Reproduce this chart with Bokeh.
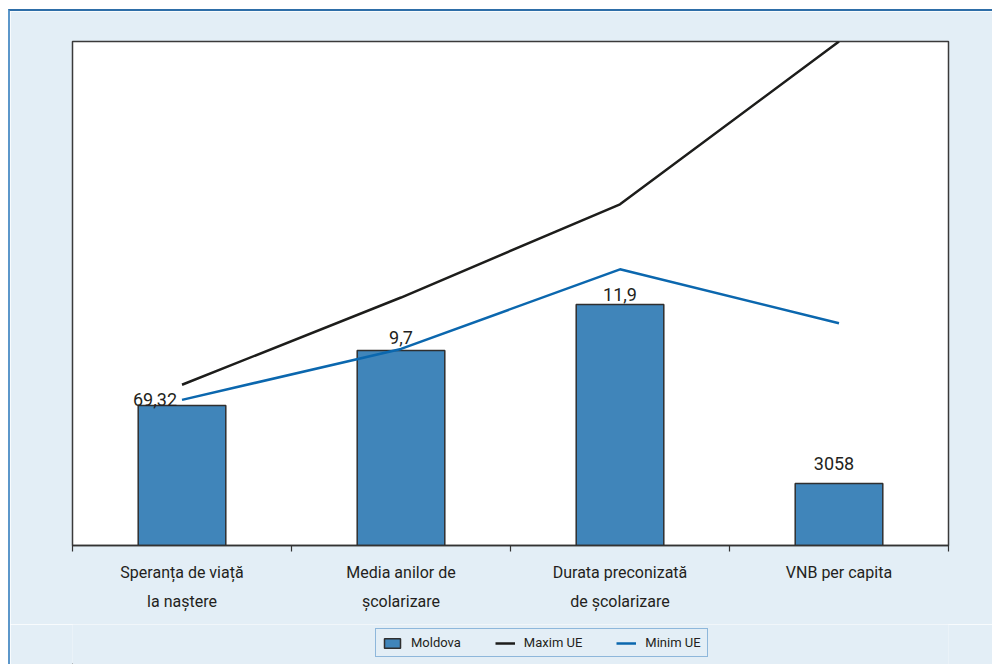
from bokeh.plotting import figure
from bokeh.layouts import column
from bokeh.models import ColumnDataSource, Range1d, FixedTicker, Legend, LegendItem, LinearAxis
from bokeh.core.properties import value
from bokeh.embed import file_html
from bokeh.resources import INLINE

# ---- data ----
categories = ["Speranța de viață\nla naștere", "Media anilor de\nșcolarizare",
              "Durata preconizată\nde școlarizare", "VNB per capita"]
# bar heights and line levels on the chart's own (unlabelled) relative scale, 0..100
moldova = [27.8, 38.7, 47.8, 12.3]
maxim_ue = [31.9, 49.2, 67.7, 100.0]
minim_ue = [28.9, 39.0, 54.8, 44.1]
value_labels = ["69,32", "9,7", "11,9", "3058"]

# ---- styling helpers ----
label_dx = [-27, 0, 0, -5]
label_dy = [-6, -13, -10, -20]
BG = "#e3eef6"
BAR_FILL = "#4085ba"
MAX_COL = "#1d1d1b"
MIN_COL = "#0b67ae"

xc = [i + 0.5 for i in range(len(categories))]
line1 = {x: c.split("\n")[0] for x, c in zip(xc, categories)}
line2 = {x: c.split("\n")[1] for x, c in zip(xc, categories) if "\n" in c}

p = figure(width=984, height=615, output_backend="svg", toolbar_location=None,
           x_range=Range1d(0, 4), y_range=Range1d(0, 100))
p.margin = (9, 0, 0, 8)
p.styles = {"border-top": "2px solid #2e6ea8", "border-left": "2px solid #5c97ca"}
p.min_border_left = 62
p.min_border_right = 46
p.min_border_top = 30
p.min_border_bottom = 81
p.background_fill_color = "white"
p.border_fill_color = BG
p.outline_line_color = "#3a3a3a"
p.outline_line_width = 1.5
p.xgrid.visible = False
p.ygrid.visible = False
p.yaxis.visible = False

ax = p.xaxis[0]
ax.ticker = FixedTicker(ticks=xc, minor_ticks=[0, 1, 2, 3, 4])
ax.major_label_overrides = line1
ax.major_tick_line_color = None
ax.major_tick_in = 0
ax.major_tick_out = 6
ax.minor_tick_in = 0
ax.minor_tick_out = 6
ax.minor_tick_line_color = "#333333"
ax.minor_tick_line_width = 1.2
ax.axis_line_color = "#333333"
ax.axis_line_width = 1.5
ax.major_label_text_font = "Roboto"
ax.major_label_text_font_size = "16px"
ax.major_label_text_color = "#231f20"
ax.major_label_standoff = 11

ax2 = LinearAxis(ticker=FixedTicker(ticks=list(line2.keys())),
                 major_label_overrides=line2)
ax2.axis_line_color = None
ax2.major_tick_line_color = None
ax2.minor_tick_line_color = None
ax2.major_tick_in = 0
ax2.major_tick_out = 0
ax2.major_label_text_font = "Roboto"
ax2.major_label_text_font_size = "16px"
ax2.major_label_text_color = "#231f20"
ax2.major_label_standoff = 7
p.add_layout(ax2, "below")

src = ColumnDataSource(dict(x=xc, m=moldova, mx=maxim_ue, mn=minim_ue,
                            lab=value_labels, dx=label_dx, dy=label_dy))

p.vbar(x="x", top="m", bottom=0, width=0.4, source=src,
       fill_color=BAR_FILL, line_color="#2f2f2f", line_width=1.5)
p.line(x="x", y="mx", source=src, line_color=MAX_COL, line_width=2.5)
p.line(x="x", y="mn", source=src, line_color=MIN_COL, line_width=2.5)

p.text(x="x", y="m", text="lab", source=src, x_offset="dx", y_offset="dy",
       text_align="center", text_baseline="alphabetic",
       text_font=value("Roboto"), text_font_size="18px", text_color="#231f20")

# ---- legend strip below the chart (its own small figure, data kept out of view) ----
lf = figure(width=984, height=40, output_backend="svg", toolbar_location=None,
            x_range=Range1d(100, 101), y_range=Range1d(100, 101),
            x_axis_location=None, y_axis_location=None)
lf.margin = (0, 0, 0, 8)
lf.styles = {"border-left": "2px solid #5c97ca"}
lf.min_border_left = 0
lf.min_border_right = 0
lf.min_border_top = 0
lf.min_border_bottom = 0
lf.background_fill_color = BG
lf.border_fill_color = BG
lf.outline_line_color = None
lf.xgrid.visible = False
lf.ygrid.visible = False

lbars = lf.vbar(x="x", top="m", bottom=0, width=0.4, source=src,
                fill_color=BAR_FILL, line_color="#2f2f2f", line_width=1.5)
lmax = lf.line(x="x", y="mx", source=src, line_color=MAX_COL, line_width=2.5)
lmin = lf.line(x="x", y="mn", source=src, line_color=MIN_COL, line_width=2.5)

legend = Legend(items=[LegendItem(label="Moldova", renderers=[lbars]),
                       LegendItem(label="Maxim UE", renderers=[lmax]),
                       LegendItem(label="Minim UE", renderers=[lmin])],
                orientation="horizontal", location=(303, 7))
legend.label_text_font = "Roboto"
legend.label_text_font_size = "13px"
legend.label_text_color = "#231f20"
legend.glyph_width = 20
legend.glyph_height = 12
legend.label_standoff = 9
legend.spacing = 34
legend.padding = 6
legend.margin = 0
legend.border_line_color = "#3a80c0"
legend.border_line_width = 1.2
legend.background_fill_color = BG
legend.background_fill_alpha = 1
lf.add_layout(legend, "center")

layout = column(p, lf, spacing=0)
open("out.html", "w").write(file_html(layout, INLINE))
